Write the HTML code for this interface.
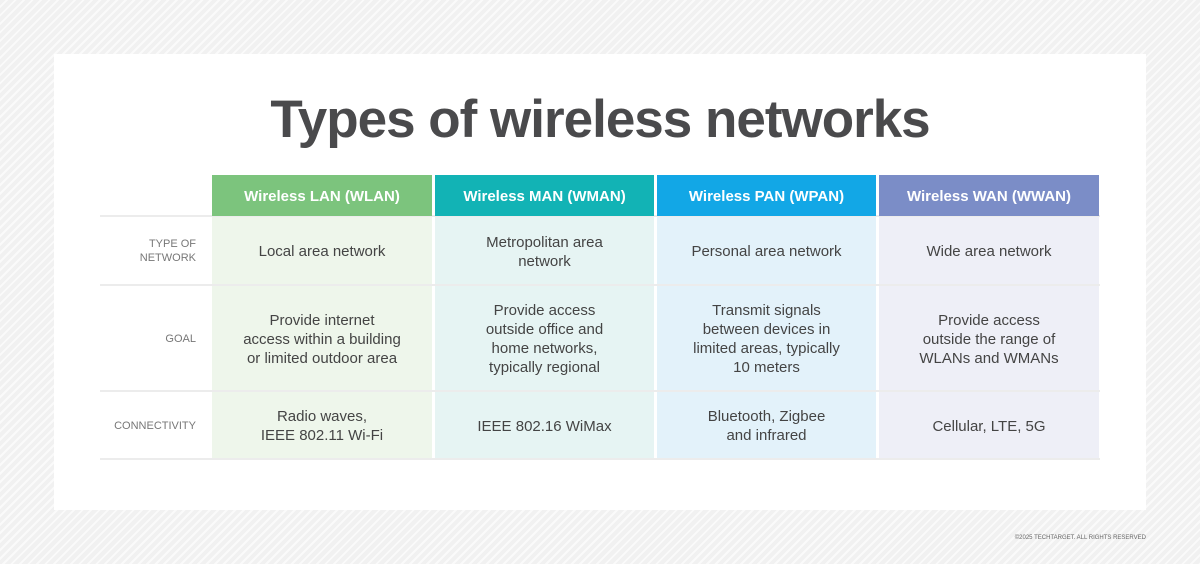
<!DOCTYPE html>
<html><head><style>
body{margin:0;width:1200px;height:564px;overflow:hidden;font-family:"Liberation Sans",sans-serif;
background:repeating-linear-gradient(135deg,#f1f1f1 0 4px,#fafafa 4px 6px);position:relative}
.card{position:absolute;left:54px;top:54px;width:1092px;height:456px;background:#fff}
h1{position:absolute;left:0;width:1200px;top:89px;margin:0;text-align:center;font-size:53px;font-weight:bold;color:#4a4a4c;letter-spacing:-1px}
.c{position:absolute;display:flex;align-items:center;justify-content:center;text-align:center;color:#444;font-size:15px;line-height:19px;padding-top:2px;box-sizing:border-box}
.h{color:#fff;font-weight:bold;font-size:15px}
.l{position:absolute;text-align:right;font-size:11px;color:#777;line-height:14px}
.line{position:absolute;left:100px;width:1000px;height:2px;background:#ececec}
.copy{position:absolute;right:54px;top:535px;font-size:6px;color:#666}
</style></head><body>
<div class="card"></div>
<h1>Types of wireless networks</h1>
<div class="line" style="top:215px"></div>
<div class="line" style="top:284px"></div>
<div class="line" style="top:390px"></div>
<div class="line" style="top:458px"></div>
<div class="c h" style="left:212px;top:175px;width:220px;height:41px;background:#7cc47d">Wireless LAN (WLAN)</div>
<div class="c h" style="left:435px;top:175px;width:219px;height:41px;background:#12b3b5">Wireless MAN (WMAN)</div>
<div class="c h" style="left:657px;top:175px;width:219px;height:41px;background:#12a7e6">Wireless PAN (WPAN)</div>
<div class="c h" style="left:879px;top:175px;width:220px;height:41px;background:#7b8dc7">Wireless WAN (WWAN)</div>

<div class="c" style="left:212px;top:217px;width:220px;height:67px;background:#eef6eb">Local area network</div>
<div class="c" style="left:212px;top:286px;width:220px;height:104px;background:#eef6eb">Provide internet<br>access within a building<br>or limited outdoor area</div>
<div class="c" style="left:212px;top:392px;width:220px;height:66px;background:#eef6eb">Radio waves,<br>IEEE 802.11 Wi-Fi</div>

<div class="c" style="left:435px;top:217px;width:219px;height:67px;background:#e6f4f3">Metropolitan area<br>network</div>
<div class="c" style="left:435px;top:286px;width:219px;height:104px;background:#e6f4f3">Provide access<br>outside office and<br>home networks,<br>typically regional</div>
<div class="c" style="left:435px;top:392px;width:219px;height:66px;background:#e6f4f3">IEEE 802.16 WiMax</div>

<div class="c" style="left:657px;top:217px;width:219px;height:67px;background:#e3f2fa">Personal area network</div>
<div class="c" style="left:657px;top:286px;width:219px;height:104px;background:#e3f2fa">Transmit signals<br>between devices in<br>limited areas, typically<br>10 meters</div>
<div class="c" style="left:657px;top:392px;width:219px;height:66px;background:#e3f2fa">Bluetooth, Zigbee<br>and infrared</div>

<div class="c" style="left:879px;top:217px;width:220px;height:67px;background:#eeeff7">Wide area network</div>
<div class="c" style="left:879px;top:286px;width:220px;height:104px;background:#eeeff7">Provide access<br>outside the range of<br>WLANs and WMANs</div>
<div class="c" style="left:879px;top:392px;width:220px;height:66px;background:#eeeff7">Cellular, LTE, 5G</div>

<div class="l" style="left:100px;width:96px;top:237px">TYPE OF<br>NETWORK</div>
<div class="l" style="left:100px;width:96px;top:332px">GOAL</div>
<div class="l" style="left:100px;width:96px;top:419px">CONNECTIVITY</div>
<div class="copy">©2025 TECHTARGET. ALL RIGHTS RESERVED</div>
</body></html>
